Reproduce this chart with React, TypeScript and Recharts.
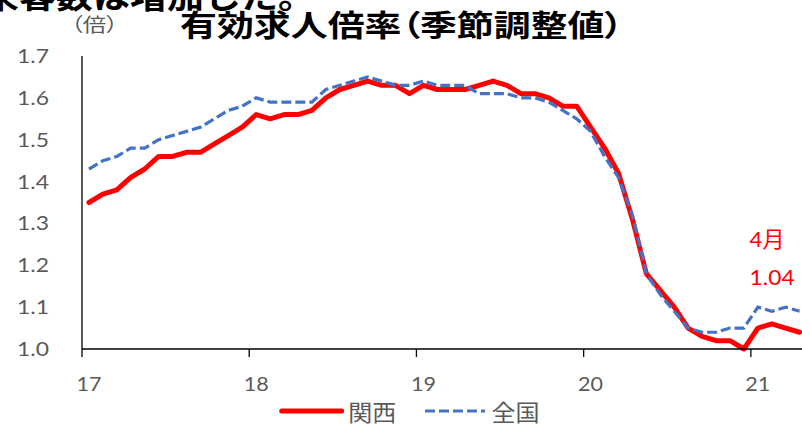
import React from 'react';
import { ComposedChart, Line, XAxis, YAxis, Legend, LabelList } from 'recharts';

// 有効求人倍率（季節調整値）, monthly, Jan 2017 – Apr 2021
const yearLabels = ['17', '18', '19', '20', '21'];

const kansai = [
  1.35, 1.37, 1.38, 1.41, 1.43, 1.46, 1.46, 1.47, 1.47, 1.49, 1.51, 1.53,
  1.56, 1.55, 1.56, 1.56, 1.57, 1.60, 1.62, 1.63, 1.64, 1.63, 1.63, 1.61,
  1.63, 1.62, 1.62, 1.62, 1.63, 1.64, 1.63, 1.61, 1.61, 1.60, 1.58, 1.58,
  1.53, 1.48, 1.42, 1.31, 1.18, 1.14, 1.10, 1.05, 1.03, 1.02, 1.02, 1.00,
  1.05, 1.06, 1.05, 1.04,
];

const zenkoku = [
  1.43, 1.45, 1.46, 1.48, 1.48, 1.50, 1.51, 1.52, 1.53, 1.55, 1.57, 1.58,
  1.60, 1.59, 1.59, 1.59, 1.59, 1.62, 1.63, 1.64, 1.65, 1.64, 1.63, 1.63,
  1.64, 1.63, 1.63, 1.63, 1.61, 1.61, 1.61, 1.60, 1.60, 1.59, 1.57, 1.55,
  1.52, 1.46, 1.41, 1.32, 1.18, 1.13, 1.09, 1.05, 1.04, 1.04, 1.05, 1.05,
  1.10, 1.09, 1.10, 1.09,
];

const yTicks = [1.0, 1.1, 1.2, 1.3, 1.4, 1.5, 1.6, 1.7];
const latestMonth = '4月';
const seriesOrder = ['kansai', 'zenkoku'];

const months = kansai.map((_, i) => `${yearLabels[Math.floor(i / 12)]}/${(i % 12) + 1}`);
const data = months.map((m, i) => ({ m, kansai: kansai[i], zenkoku: zenkoku[i] }));

const GREY = '#595959';
const RED = '#FF0000';
const BLUE = '#4472C4';
const AXIS = '#000000';
const NUM_FONT = "Lato, 'Noto Sans CJK JP', sans-serif";
const JP_FONT = "'Noto Sans CJK JP', sans-serif";

const CHART_W = 830;
const CHART_H = 426;
const PLOT_LEFT = 82;
const PLOT_TOP = 56;
const PLOT_BOTTOM = 349;
const PLOT_RIGHT = 806.6;
const BAND = (PLOT_RIGHT - PLOT_LEFT) / kansai.length;

const YTick = ({ y, payload }: any) => (
  <text
    x={49}
    y={y}
    dy={7}
    textAnchor="end"
    fill={GREY}
    fontSize={19}
    fontFamily={NUM_FONT}
    textLength={32}
    lengthAdjust="spacingAndGlyphs"
  >
    {Number(payload.value).toFixed(1)}
  </text>
);

// year label under January, tick mark on the boundary before it
const XTick = ({ x, index }: any) => {
  if (index % 12 !== 0) return <g />;
  const edge = x - BAND / 2;
  return (
    <g>
      <line x1={edge} x2={edge} y1={PLOT_BOTTOM} y2={PLOT_BOTTOM + 8} stroke={AXIS} strokeWidth={1.3} />
      <text
        x={x}
        y={384}
        dy={7}
        textAnchor="middle"
        fill={GREY}
        fontSize={19}
        fontFamily={NUM_FONT}
        textLength={25}
        lengthAdjust="spacingAndGlyphs"
      >
        {yearLabels[index / 12]}
      </text>
    </g>
  );
};

const LastLabel = (props: any) => {
  const { index, value } = props;
  if (index !== kansai.length - 1) return null;
  const px = props.x ?? props.viewBox?.x;
  const py = props.y ?? props.viewBox?.y;
  return (
    <g fill={RED} fontFamily={NUM_FONT} fontSize={22}>
      <text x={px - 50} y={py - 85} textLength={35} lengthAdjust="spacingAndGlyphs">
        {latestMonth}
      </text>
      <text x={px - 50} y={py - 47.5} textLength={45} lengthAdjust="spacingAndGlyphs">
        {Number(value).toFixed(2)}
      </text>
    </g>
  );
};

const LegendBox = ({ payload }: any) => {
  const items = [...(payload || [])].sort(
    (a: any, b: any) => seriesOrder.indexOf(a.dataKey) - seriesOrder.indexOf(b.dataKey),
  );
  return (
    <svg width={802} height={28} style={{ display: 'block', overflow: 'visible' }}>
      {items.map((item: any, i: number) => {
        const x0 = 281.7 + i * 143.3;
        const dashed = item.dataKey === 'zenkoku';
        return (
          <g key={item.dataKey}>
            <line
              x1={x0}
              x2={x0 + 60}
              y1={13}
              y2={13}
              stroke={item.color}
              strokeWidth={dashed ? 3.2 : 5}
              strokeDasharray={dashed ? '10 4' : undefined}
              strokeLinecap={dashed ? 'butt' : 'round'}
            />
            <text
              x={x0 + 66.6}
              y={23}
              fill={GREY}
              fontSize={23}
              fontFamily={JP_FONT}
              textLength={48}
              lengthAdjust="spacingAndGlyphs"
            >
              {item.value}
            </text>
          </g>
        );
      })}
    </svg>
  );
};

export default function App() {
  return (
    <div
      style={{
        position: 'absolute',
        left: 0,
        top: 0,
        width: 802,
        height: 426,
        overflow: 'hidden',
        background: '#fff',
      }}
    >
      <ComposedChart
        width={CHART_W}
        height={CHART_H}
        data={data}
        margin={{ top: PLOT_TOP, right: CHART_W - PLOT_RIGHT, bottom: 37, left: 0 }}
      >
        <XAxis
          dataKey="m"
          scale="band"
          interval={0}
          height={40}
          tickLine={false}
          axisLine={{ stroke: AXIS, strokeWidth: 1.3 }}
          tick={<XTick />}
        />
        <YAxis
          width={PLOT_LEFT}
          domain={[1.0, 1.7]}
          ticks={yTicks}
          tickLine={false}
          axisLine={{ stroke: AXIS, strokeWidth: 1.3 }}
          tick={<YTick />}
        />
        <Legend
          layout="horizontal"
          verticalAlign="middle"
          wrapperStyle={{ top: 398, left: 0, width: 802 }}
          content={<LegendBox />}
        />
        <Line
          type="linear"
          dataKey="kansai"
          name="関西"
          stroke={RED}
          strokeWidth={5}
          strokeLinejoin="round"
          strokeLinecap="round"
          dot={false}
          activeDot={false}
          isAnimationActive={false}
        >
          <LabelList dataKey="kansai" content={<LastLabel />} />
        </Line>
        <Line
          type="linear"
          dataKey="zenkoku"
          name="全国"
          stroke={BLUE}
          strokeWidth={3.2}
          strokeDasharray="10 4"
          dot={false}
          activeDot={false}
          isAnimationActive={false}
        />
      </ComposedChart>
      <svg
        width={802}
        height={426}
        style={{ position: 'absolute', left: 0, top: 0, pointerEvents: 'none' }}
      >
        <text
          x={-18}
          y={8.3}
          fill="#000"
          fontSize={31}
          fontWeight={700}
          fontFamily={JP_FONT}
          textLength={333}
          lengthAdjust="spacingAndGlyphs"
        >
          来客数は増加した。
        </text>
        <text
          x={71}
          y={32.2}
          fill={GREY}
          fontSize={19}
          fontFamily={JP_FONT}
          textLength={47}
          lengthAdjust="spacingAndGlyphs"
          style={{ fontFeatureSettings: '"palt"' }}
        >
          （倍）
        </text>
        <text
          x={180}
          y={36.2}
          fill="#000"
          fontSize={29.5}
          fontWeight={700}
          fontFamily={JP_FONT}
          textLength={443}
          lengthAdjust="spacingAndGlyphs"
          style={{ fontFeatureSettings: '"palt"' }}
        >
          有効求人倍率（季節調整値）
        </text>
      </svg>
    </div>
  );
}
